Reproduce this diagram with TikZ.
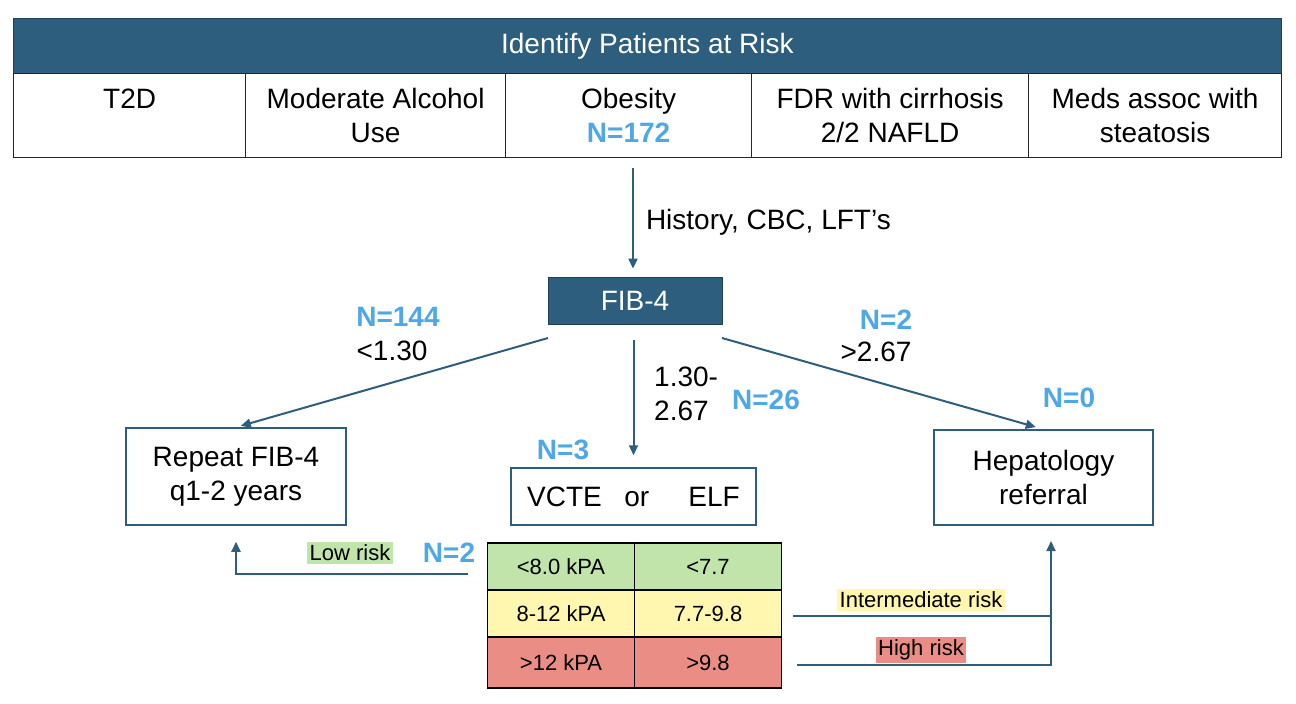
\documentclass[tikz,border=0pt]{standalone}
\usepackage{fontspec}
\setmainfont{Liberation Sans}
\usetikzlibrary{arrows.meta, positioning}
\definecolor{fibblue}{RGB}{46,94,126}
\definecolor{nblue}{RGB}{78,167,230}
\definecolor{lowgreen}{RGB}{193,228,170}
\definecolor{midyellow}{RGB}{255,246,176}
\definecolor{highred}{RGB}{234,142,133}
\newcommand{\bigtxt}{\fontsize{28}{34}\selectfont}
\newcommand{\smalltxt}{\fontsize{22}{26}\selectfont}
\newcommand{\ncount}[1]{\textcolor{nblue}{\bfseries #1}}

\begin{document}
\begin{tikzpicture}[x=1pt,y=-1pt,>={Triangle[length=10pt,width=9pt]},
      every node/.style={font=\bigtxt,align=center,inner sep=0pt},
      darkbox/.style={fill=fibblue,draw=fibblue!70!black,line width=0.8pt,text=white},
      riskcell/.style={draw=black!85,line width=1.2pt,minimum height=84pt,anchor=north west},
      stepbox/.style={draw=fibblue,line width=1.5pt},
      tcell/.style={draw=black,line width=1.2pt,font=\smalltxt,minimum width=147pt,minimum height=47pt},
      tag/.style={font=\smalltxt,inner sep=2.5pt},
      flow/.style={draw=fibblue,line width=2pt}]
  \useasboundingbox (0,0) rectangle (1296,704);

  % identify patients at risk
  \node[darkbox,minimum width=1268pt,minimum height=55pt,anchor=north west] (header) at (13,18) {Identify Patients at Risk};
  \node[riskcell,minimum width=232pt] (risk_t2d) at (13,73) {T2D\\\phantom{Use}};
  \node[riskcell,minimum width=260pt] (risk_alc) at (245,73) {Moderate Alcohol\\Use};
  \node[riskcell,minimum width=246pt] (risk_obes) at (505,73) {Obesity\\\ncount{N=172}};
  \node[riskcell,minimum width=277pt] (risk_fdr) at (751,73) {FDR with cirrhosis\\2/2 NAFLD};
  \node[riskcell,minimum width=253pt] (risk_meds) at (1028,73) {Meds assoc with\\steatosis};

  % FIB-4 and its outcomes
  \node[darkbox,minimum width=174pt,minimum height=47pt] (fib4) at (635,300.5) {FIB-4};
  \node[stepbox,minimum width=220pt,minimum height=97pt] (repeat) at (236,476.5) {Repeat FIB-4\\q1-2 years};
  \node[stepbox,minimum width=245pt,minimum height=57pt] (vcte) at (633.5,496.5) {VCTE\hspace{0.8em}or\hspace{1.4em}ELF};
  \node[stepbox,minimum width=219pt,minimum height=95pt] (hep) at (1043.5,477.5) {Hepatology\\referral};

  \coordinate (hist_top) at (633,168);
  \draw[flow,->,shorten >=8pt] (hist_top) -- (hist_top |- fib4.north) node[midway,right=12pt] {History, CBC, LFT’s};

  \coordinate (fib_left) at (548,338);
  \coordinate (fib_mid) at (633.5,340);
  \coordinate (fib_right) at (722,338);
  \draw[flow,->,shorten >=5pt] (fib_left) -- (repeat.north);
  \draw[flow,->,shorten >=12pt] (fib_mid) -- (vcte.north);
  \draw[flow,->,shorten >=8pt] (fib_right) -- (hep.north);

  \node (n_low) at (398,317) {\ncount{N=144}};
  \node (lt_low) at (392,351) {<1.30};
  \node[align=left,anchor=west] (lt_mid) at (654,394) {1.30-\\2.67};
  \node (n_mid) at (766,400) {\ncount{N=26}};
  \node (n_high) at (886,320) {\ncount{N=2}};
  \node (lt_high) at (876,352) {>2.67};
  \node (n_vcte) at (563,450) {\ncount{N=3}};
  \node (n_hep) at (1069,398) {\ncount{N=0}};

  % VCTE / ELF cut-offs
  \node[tcell,fill=lowgreen] (t_11) at (561,566.5) {<8.0 kPA};
  \node[tcell,fill=lowgreen] (t_12) at (708,566.5) {<7.7};
  \node[tcell,fill=midyellow] (t_21) at (561,613.5) {8-12 kPA};
  \node[tcell,fill=midyellow] (t_22) at (708,613.5) {7.7-9.8};
  \node[tcell,fill=highred,minimum height=51pt] (t_31) at (561,662.5) {>12 kPA};
  \node[tcell,fill=highred,minimum height=51pt] (t_32) at (708,662.5) {>9.8};

  \node[tag,fill=lowgreen] (tag_low) at (350,553) {Low risk};
  \node (n_lowrisk) at (449,553) {\ncount{N=2}};
  \node[tag,fill=midyellow] (tag_mid) at (921,600) {Intermediate risk};
  \node[tag,fill=highred] (tag_high) at (921,650) {High risk};

  \coordinate (low_start) at (468,574);
  \draw[flow,->,shorten >=16pt] (low_start) -| (repeat.south);

  \coordinate (mid_start) at (793,616);
  \coordinate (high_start) at (797,665);
  \coordinate (hep_in) at (1051,541);
  \draw[flow] (mid_start) -- (mid_start -| hep_in);
  \draw[flow,->] (high_start) -| (hep_in);
\end{tikzpicture}
\end{document}
